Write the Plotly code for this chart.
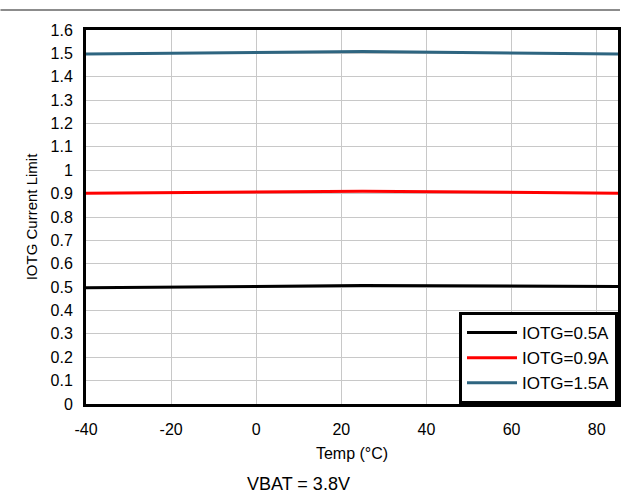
import plotly.graph_objects as go

temps = [-40, 0, 25, 85]
iotg_05 = [0.497, 0.503, 0.507, 0.503]
iotg_09 = [0.902, 0.906, 0.910, 0.902]
iotg_15 = [1.497, 1.503, 1.508, 1.497]
series_names = ["IOTG=0.5A", "IOTG=0.9A", "IOTG=1.5A"]
series_colors = ["#000000", "#ff0000", "#2e6580"]

x_ticks = [-40, -20, 0, 20, 40, 60, 80]
x_ticktext = ["-40", "-20", "0", "20", "40", "60", "80"]
y_ticks = [round(i * 0.1, 1) for i in range(17)]
y_ticktext = ["0", "0.1", "0.2", "0.3", "0.4", "0.5", "0.6", "0.7", "0.8", "0.9",
              "1", "1.1", "1.2", "1.3", "1.4", "1.5", "1.6"]

fig = go.Figure()
for name, vals, col in zip(series_names, [iotg_05, iotg_09, iotg_15], series_colors):
    fig.add_trace(go.Scatter(x=temps, y=vals, mode="lines", name=name,
                             line=dict(color=col, width=3)))

W, H = 623, 498
L, R, T, B = 86, 2, 30, 94
pw = W - L - R
ph = H - T - B

font = dict(family="Liberation Sans, Arial, sans-serif", color="#000000")

fig.update_layout(
    width=W, height=H,
    margin=dict(l=L, r=R, t=T, b=B),
    paper_bgcolor="white", plot_bgcolor="white",
    font=dict(size=16, **font),
    showlegend=True,
    legend=dict(x=1, y=0, xanchor="right", yanchor="bottom",
                bordercolor="#000000", borderwidth=3, bgcolor="white",
                font=dict(size=17, **font), tracegroupgap=0,
                itemwidth=50),
    xaxis=dict(range=[-40, 85], tickvals=x_ticks, ticktext=x_ticktext, showgrid=True,
               gridcolor="#c8c8c8", gridwidth=1, zeroline=False,
               showline=True, linecolor="#000000", linewidth=3, mirror=True,
               ticks="", tickfont=dict(size=16, **font), ticklabelstandoff=9,
               title=dict(text="Temp (°C)", font=dict(size=16, **font), standoff=11)),
    yaxis=dict(range=[0, 1.6], tickvals=y_ticks, ticktext=y_ticktext, showgrid=True,
               gridcolor="#c8c8c8", gridwidth=1, zeroline=False,
               showline=True, linecolor="#000000", linewidth=3, mirror=True,
               ticks="", tickfont=dict(size=16, **font), ticklabelstandoff=7,
               title=dict(text="IOTG Current Limit", font=dict(size=15, **font), standoff=10)),
)

# top gray separator line spanning full width
fig.add_shape(type="line", xref="paper", yref="paper",
              x0=-L / pw, x1=(W - L) / pw,
              y0=(H - B - 10) / ph, y1=(H - B - 10) / ph,
              line=dict(color="#8c8c8c", width=2))

fig.add_annotation(text="VBAT = 3.8V", xref="paper", yref="paper",
                   x=(300 - L) / pw, y=-(484 - (H - B)) / ph,
                   xanchor="center", yanchor="middle", showarrow=False,
                   font=dict(size=18, **font))

fig.write_html("out.html")
